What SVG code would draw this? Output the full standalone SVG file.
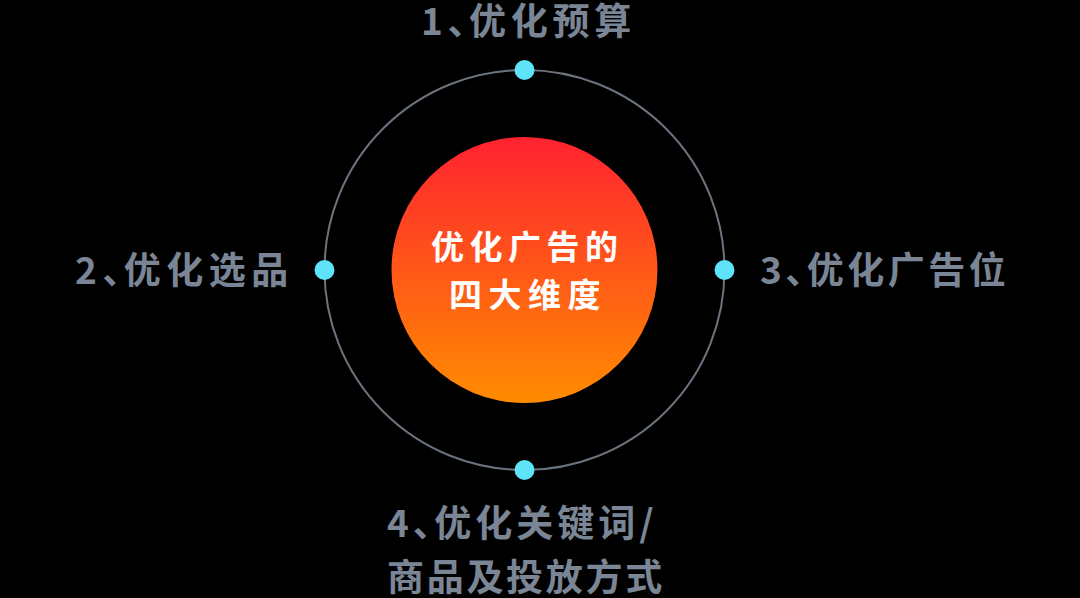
<svg xmlns="http://www.w3.org/2000/svg" width="1080" height="598" viewBox="0 0 1080 598">
<defs>
<linearGradient id="hub" x1="0" y1="0" x2="0" y2="1">
<stop offset="0" stop-color="#ff2230"/>
<stop offset="1" stop-color="#ff8c00"/>
</linearGradient>
<style>
.lbl{font-family:"Noto Sans CJK SC","Liberation Sans",sans-serif;font-size:37px;font-weight:700;fill:#7a8595;letter-spacing:3.5px}
.ctr{font-family:"Noto Sans CJK SC","Liberation Sans",sans-serif;font-size:33px;font-weight:700;fill:#ffffff;letter-spacing:5.5px}
.dot{fill:#5fe3f9}
.cm{letter-spacing:-15.5px}
</style>
</defs>
<rect width="1080" height="598" fill="#000000"/>
<g id="connectors">
<circle cx="524.5" cy="270" r="200" fill="none" stroke="#6b737e" stroke-width="2"/>
</g>
<g id="hub-node">
<circle cx="524.5" cy="270" r="133" fill="url(#hub)"/>
<text class="ctr" x="431" y="259">优化广告的</text>
<text class="ctr" x="449" y="307" style="letter-spacing:6.5px">四大维度</text>
</g>
<g id="node-1">
<circle class="dot" cx="524.5" cy="70" r="10"/>
<text class="lbl" x="421" y="35" style="letter-spacing:4.7px">1<tspan class="cm">、</tspan>优化预算</text>
</g>
<g id="node-2">
<circle class="dot" cx="324.5" cy="270" r="10"/>
<text class="lbl" x="75" y="284" style="letter-spacing:5.5px">2<tspan class="cm">、</tspan>优化选品</text>
</g>
<g id="node-3">
<circle class="dot" cx="724.5" cy="270" r="10"/>
<text class="lbl" x="760" y="284">3<tspan class="cm">、</tspan>优化广告位</text>
</g>
<g id="node-4">
<circle class="dot" cx="524.5" cy="470" r="10"/>
<text class="lbl" x="387" y="537" style="letter-spacing:4px">4<tspan class="cm">、</tspan>优化关键词/</text>
<text class="lbl" x="387" y="591" style="letter-spacing:2.7px">商品及投放方式</text>
</g>
</svg>
